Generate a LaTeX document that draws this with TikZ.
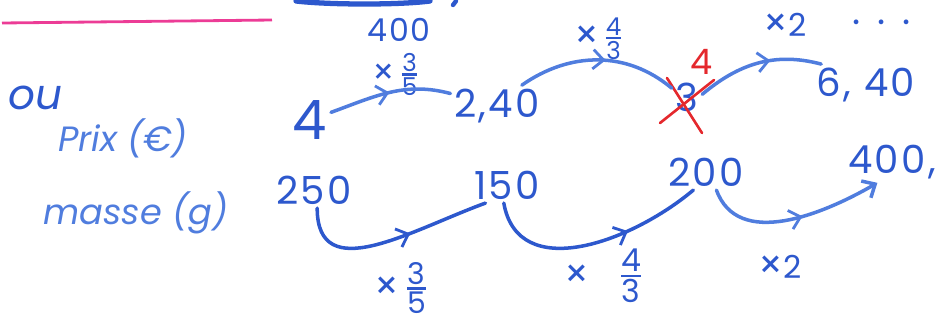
\documentclass[tikz,border=0pt]{standalone}
\usepackage{fontspec}
\newfontfamily\hand[LetterSpace=6]{Poppins}
\newfontfamily\handw{Poppins}
\usetikzlibrary{arrows.meta,decorations.markings}
\setlength\arrayrulewidth{1.4pt}
\newcommand\myfr[2]{\renewcommand\arraystretch{0.85}\begin{tabular}{@{}c@{}}#1\\[-3pt]\hline\noalign{\vskip 1pt}#2\end{tabular}}
\newcommand\bigx[1]{{\fontsize{#1}{#1}\selectfont ×}}
\definecolor{pen}{RGB}{45,88,205}
\definecolor{penlight}{RGB}{80,125,222}
\definecolor{redpen}{RGB}{228,40,45}
\definecolor{pinkpen}{RGB}{236,60,150}
\tikzset{
  num/.style={text=pen,inner sep=2pt,font=\hand\fontsize{22}{26}\selectfont},
  bignum/.style={text=pen,inner sep=2pt,font=\handw\fontsize{31}{34}\selectfont},
  lab/.style={text=pen,inner sep=1pt,font=\hand\fontsize{18}{20}\selectfont},
  fraclab/.style={text=pen,inner sep=1pt,font=\handw\fontsize{14}{15}\selectfont},
  word/.style={text=penlight,inner sep=1pt,font=\handw\itshape\fontsize{20}{24}\selectfont},
  curve/.style={draw=pen,line width=2pt,line cap=round},
  midarrow/.style={decoration={markings,mark=at position #1 with {\arrow[line width=1.6pt]{Straight Barb[length=6pt,width=11pt]}}},postaction=decorate},
}
\begin{document}
\begin{tikzpicture}[x=0.02cm,y=0.02cm]
\useasboundingbox (0,0) rectangle (937,-322);
% cut-off fragments at the top edge
\draw[pen,line width=3pt,line cap=round] (296,-1) .. controls (330,-5) and (400,-5) .. (430,-1);
\draw[pen,line width=2.5pt,line cap=round] (456,-1) -- (453,-5);
% pink rule
\draw[pinkpen,line width=1.6pt] (2,-23) -- (272,-20);
% left words
\node[word,text=pen,font=\handw\itshape\fontsize{24}{28}\selectfont] (ou) at (35,-98) {ou};
\node[word] (prix) at (123,-138) {Prix (€)};
\node[word] (masse) at (136,-213) {masse (g)};
% top row
\node[bignum] (n4) at (310,-120) {4};
\node[num] (n240) at (497,-106) {2,40};
\node[num] (n3) at (687,-97) {3};
\node[num,text=redpen,font=\handw\fontsize{20}{22}\selectfont] (nred) at (702,-62) {4};
\node[num] (n640) at (866,-85) {6, 40};
\node[num,text height=3pt,text depth=0pt] (dots) at (882,-22) {. . .};
\node[lab] (l400) at (399,-30) {400};
\node[fraclab] (t1) at (395,-78) {\bigx{20} \myfr{3}{5}};
\node[fraclab] (t2) at (598,-42) {\bigx{22} \myfr{4}{3}};
\node[lab] (t3) at (785,-25) {\bigx{22}2};
% crossed 3
\draw[redpen,line width=1.5pt,line cap=round] (660,-123) -- (714,-80);
\draw[redpen,line width=1.5pt,line cap=round] (667,-78) -- (702,-133);
% bottom row
\node[num] (n250) at (314,-190) {250};
\node[num] (n150) at (507,-185) {150};
\node[num] (n200) at (706,-172) {200};
\node[num] (n400) at (892,-162) {400,};
\node[fraclab,font=\handw\fontsize{17}{18}\selectfont] (b1) at (400,-292) {\bigx{22} \myfr{3}{5}};
\node[fraclab,font=\handw\fontsize{18}{19}\selectfont] (b2) at (603,-280) {\bigx{22}\quad\myfr{4}{3}};
\node[lab] (b3) at (780,-267) {\bigx{22}2};
% top connectors
\draw[curve,draw=penlight,midarrow=0.5] (n4.20) to[out=20,in=165] (n240.165);
\draw[curve,draw=penlight,midarrow=0.55] (n240.40) to[out=35,in=140] (n3.150);
\draw[curve,draw=penlight,midarrow=0.6] (n3.10) to[out=40,in=165] (n640.155);
% bottom connectors
\draw[curve,midarrow=0.6] (n250.-80) to[out=-90,in=-160,looseness=1.2] (n150.-140);
\draw[curve,midarrow=0.66] (n150.-100) to[out=-80,in=-140,looseness=1.1] (n200.-125);
\draw[curve,draw=penlight,midarrow=0.55,-{Straight Barb[length=6pt,width=11pt]}] (n200.-60) to[out=-70,in=-150] (n400.-125);
\end{tikzpicture}
\end{document}
